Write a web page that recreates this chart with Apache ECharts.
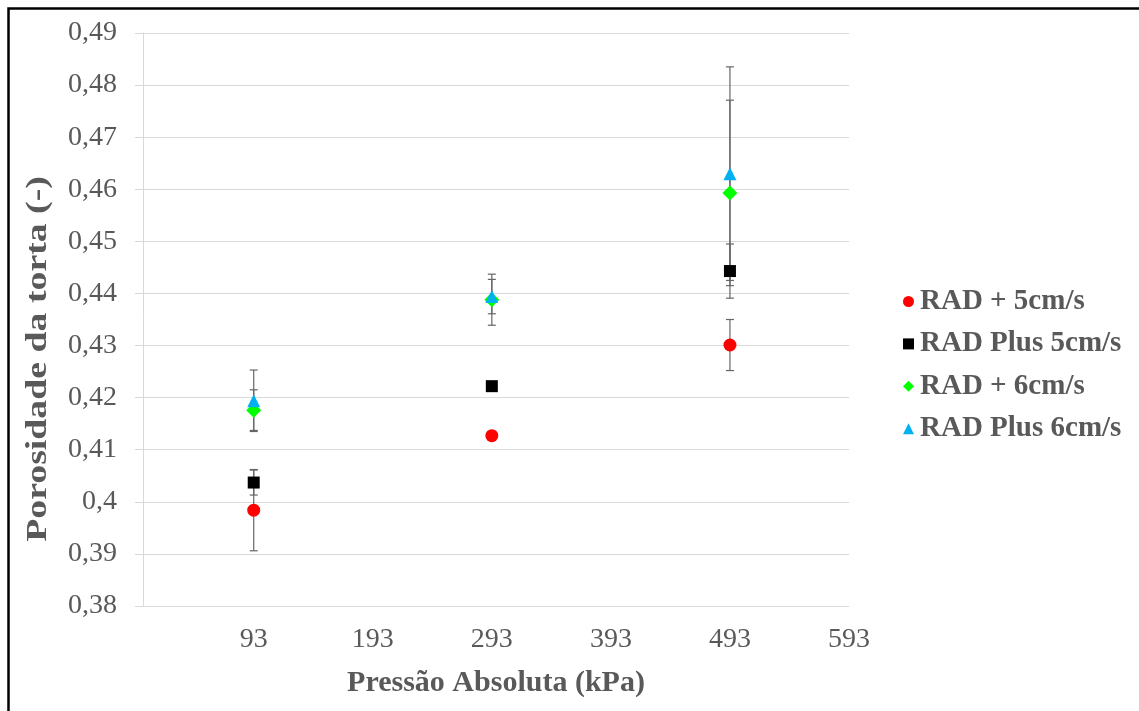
<!DOCTYPE html>
<html>
<head>
<meta charset="utf-8">
<title>Porosidade da torta</title>
<script src="https://cdn.jsdelivr.net/npm/echarts@6/dist/echarts.min.js"></script>
<style>
  html, body { margin: 0; padding: 0; background: #fff; }
  #chart { width: 1139px; height: 711px; }
</style>
</head>
<body>
<div id="chart"></div>
<script>
// Pressure levels (kPa) and the measured cake porosity for each filter / velocity
const pressures = [93, 293, 493];
const xTickValues = [93, 193, 293, 393, 493, 593];

const seriesNames = ['RAD + 5cm/s', 'RAD Plus 5cm/s', 'RAD + 6cm/s', 'RAD Plus 6cm/s'];

const rad5 = [0.3984, 0.4127, 0.4301];
const rad5Err = [0.0078, 0, 0.0049];

const plus5 = [0.4037, 0.4222, 0.4443];
const plus5Err = [0.0024, 0, 0.0052];

const rad6 = [0.4176, 0.4388, 0.4593];
const rad6Err = [0.0039, 0.0049, 0.0178];

const plus6 = [0.4194, 0.4394, 0.4630];
const plus6Err = [0.0059, 0.0033, 0.0205];

const means = [rad5, plus5, rad6, plus6];
const errors = [rad5Err, plus5Err, rad6Err, plus6Err];

const colors = ['#ff0000', '#000000', '#00ff00', '#00b0f0'];
const symbols = ['circle', 'rect', 'diamond', 'triangle'];
const symbolSizes = [13, 12, 15, 13];

const textColor = '#595959';
const serif = '"Liberation Serif", "Times New Roman", serif';

const chart = echarts.init(document.getElementById('chart'), null, { renderer: 'canvas' });

// Vertical error bar with caps, drawn behind the markers
function errorBarSeries(idx) {
  const data = pressures.map((p, i) => [p, means[idx][i] - errors[idx][i], means[idx][i] + errors[idx][i]]);
  return {
    type: 'custom',
    name: seriesNames[idx] + ' erro',
    z: 1,
    silent: true,
    data: data,
    encode: { x: 0, y: [1, 2] },
    renderItem: function (params, api) {
      const x = api.value(0);
      const lo = api.coord([x, api.value(1)]);
      const hi = api.coord([x, api.value(2)]);
      if (Math.abs(lo[1] - hi[1]) < 0.5) return null;
      const half = 4;
      const style = { stroke: '#666666', lineWidth: 1.2 };
      return {
        type: 'group',
        children: [
          { type: 'line', shape: { x1: lo[0], y1: lo[1], x2: hi[0], y2: hi[1] }, style: style },
          { type: 'line', shape: { x1: lo[0] - half, y1: lo[1], x2: lo[0] + half, y2: lo[1] }, style: style },
          { type: 'line', shape: { x1: hi[0] - half, y1: hi[1], x2: hi[0] + half, y2: hi[1] }, style: style }
        ]
      };
    }
  };
}

const series = [];
for (let k = 0; k < 4; k++) series.push(errorBarSeries(k));
for (let k = 0; k < 4; k++) {
  series.push({
    type: 'scatter',
    name: seriesNames[k],
    z: 3,
    symbol: symbols[k],
    symbolSize: symbolSizes[k],
    itemStyle: { color: colors[k], opacity: 1 },
    data: pressures.map((p, i) => [p, means[k][i]])
  });
}

const option = {
  backgroundColor: '#ffffff',
  animation: false,
  grid: { left: 143, right: 290, top: 33, bottom: 105, containLabel: false },
  legend: {
    data: seriesNames.map((n, k) => ({ name: n, icon: symbols[k] })),
    orient: 'vertical',
    left: 898,
    top: 282,
    itemWidth: 11,
    itemHeight: 11,
    itemGap: 13.4,
    textStyle: {
      fontFamily: serif,
      fontWeight: 'bold',
      fontSize: 29,
      color: textColor,
      padding: [0, 0, 0, 1]
    }
  },
  xAxis: {
    type: 'value',
    min: 0,
    max: 593,
    name: 'Pressão Absoluta (kPa)',
    nameLocation: 'middle',
    nameGap: 62,
    nameTextStyle: { fontFamily: serif, fontWeight: 'bold', fontSize: 30, color: textColor },
    axisLine: { show: false },
    axisTick: { show: false },
    splitLine: { show: false },
    axisLabel: {
      customValues: xTickValues,
      margin: 20,
      fontFamily: serif,
      fontSize: 28,
      color: textColor
    }
  },
  yAxis: {
    type: 'value',
    min: 0.38,
    max: 0.49,
    interval: 0.01,
    axisLine: { show: true, lineStyle: { color: '#d9d9d9', width: 1 } },
    axisTick: { show: true, inside: false, length: 8, lineStyle: { color: '#d9d9d9' } },
    splitLine: { show: true, lineStyle: { color: '#d9d9d9', width: 1 } },
    axisLabel: {
      margin: 26,
      fontFamily: serif,
      fontSize: 28,
      color: textColor,
      formatter: function (v) {
        return String(+v.toFixed(2)).replace('.', ',');
      }
    }
  },
  graphic: [
    {
      // chart frame
      type: 'rect',
      silent: true,
      z: 100,
      shape: { x: 8.5, y: 8.5, width: 1200, height: 800 },
      style: { fill: 'none', stroke: '#000000', lineWidth: 2.5 }
    },
    {
      // vertical axis title, widened along its baseline
      type: 'text',
      silent: true,
      x: 38,
      y: 359,
      rotation: Math.PI / 2,
      scaleX: 1.26,
      style: {
        text: 'Porosidade da torta (-)',
        fontFamily: serif,
        fontWeight: 'bold',
        fontSize: 30,
        fill: textColor,
        align: 'center',
        verticalAlign: 'middle'
      }
    }
  ],
  series: series
};

chart.setOption(option);
</script>
</body>
</html>
